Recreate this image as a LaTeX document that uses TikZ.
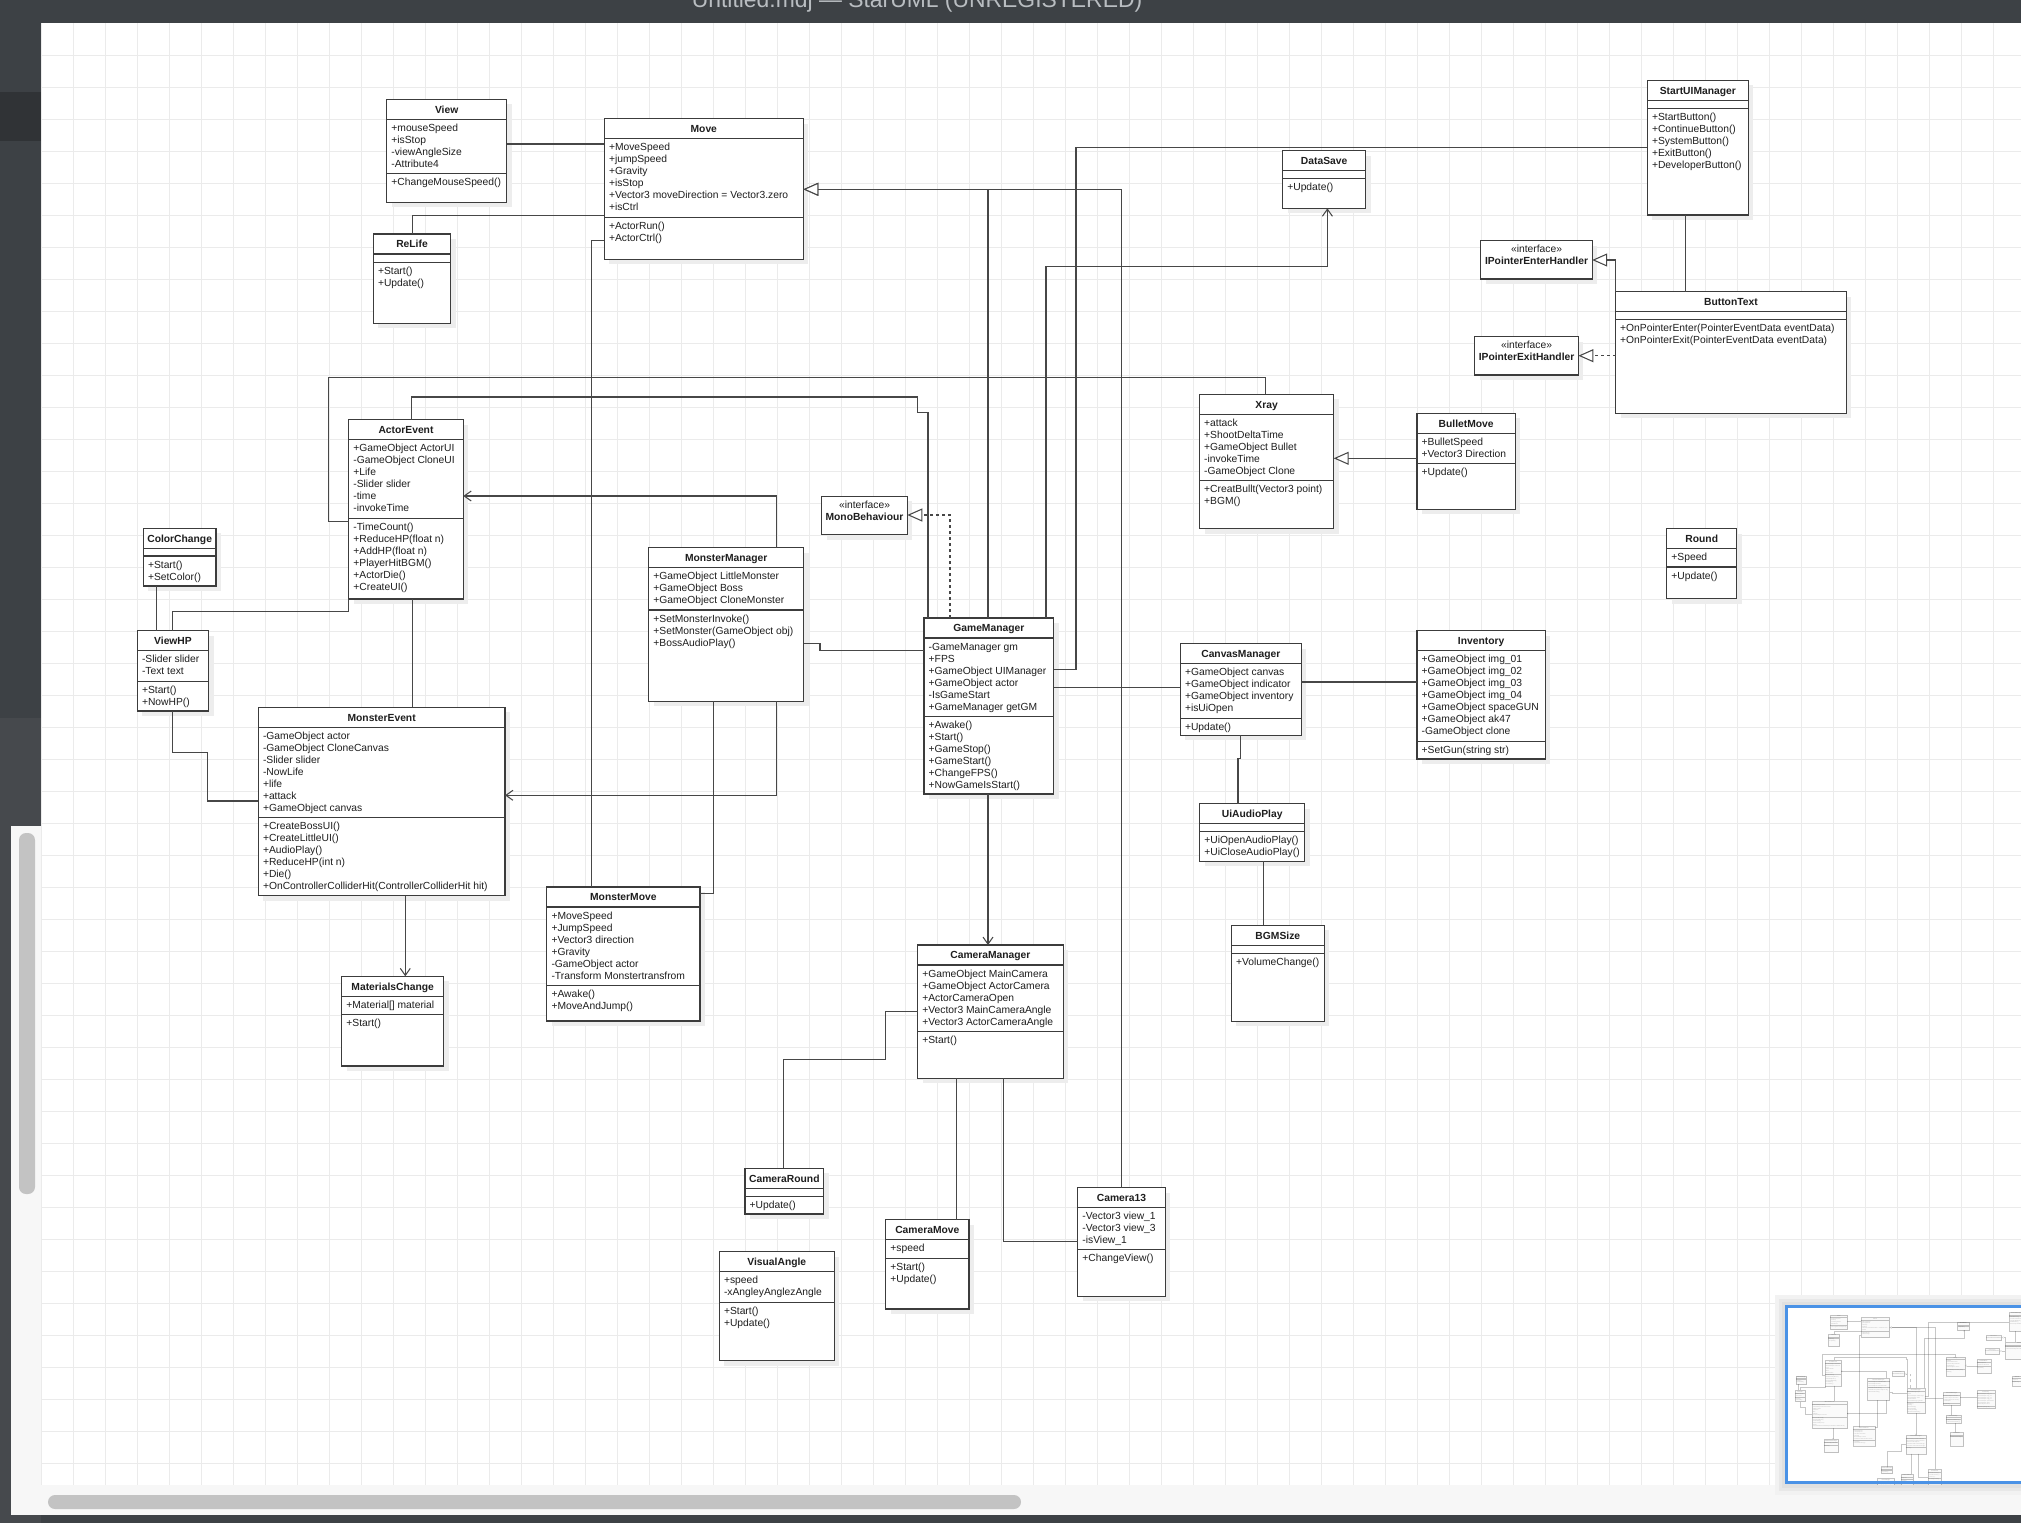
\documentclass[tikz,border=0pt]{standalone}
\usepackage{fontspec}
\setmainfont{Liberation Sans}
\usetikzlibrary{arrows.meta}
\definecolor{boxc}{HTML}{3C3C3C}
\definecolor{linec}{HTML}{474747}
\definecolor{textc}{HTML}{1E1E1E}
\definecolor{barc}{HTML}{3D4145}
\definecolor{bardark}{HTML}{303336}
\definecolor{sidelow}{HTML}{46494D}
\definecolor{gridc}{HTML}{EBEBEB}
\definecolor{scrollc}{HTML}{C3C3C3}
\definecolor{titlec}{HTML}{B9BDC1}
\definecolor{mapblue}{HTML}{4A92E6}
\definecolor{panelc}{HTML}{F7F7F7}
\newcommand{\boxlw}{1.2pt}
\newcommand{\linelw}{1.05pt}
\tikzset{
  classbox/.style={rectangle, draw=boxc, fill=white, line width=\boxlw, inner sep=0pt, outer sep=0pt},
  boxshadow/.style={fill=black!7},
  titletext/.style={font=\fontsize{10.3}{12}\selectfont\bfseries, text=textc, inner sep=0pt, anchor=base},
  stereotext/.style={font=\fontsize{10.3}{12}\selectfont, text=textc, inner sep=0pt, anchor=base},
  membertext/.style={font=\fontsize{10.3}{12}\selectfont, text=textc, inner sep=0pt, anchor=base west},
  sepline/.style={draw=boxc, line width=\boxlw},
  assoc/.style={draw=linec, line width=\linelw},
  gen/.style={assoc, -{Triangle[fill=white, length=0pt 14.3, width=0pt 12.4]}},
  realize/.style={gen, dash pattern=on 3pt off 3pt},
  nav/.style={assoc, -{Straight Barb[length=0pt 6.7, width=0pt 9.5]}},
  gridline/.style={draw=gridc, line width=1pt},
}
% name, x1, y1, x2, y2, title, second separator y, attributes, operations
\newcommand{\umlclass}[9]{%
  \fill[boxshadow] ({#2+5},{#3+5}) rectangle ({#4+5},{#5+5});
  \node[classbox, minimum width={#4-#2}, minimum height={#5-#3}] (#1) at ({(#2+#4)/2},{(#3+#5)/2}) {};
  \node[titletext] (#1-t) at ({(#2+#4)/2},{#3+13.7}) {#6};
  \draw[sepline] (#1.west |- 0,{#3+20}) -- (#1.east |- 0,{#3+20});
  \draw[sepline] (#1.west |- 0,{#7}) -- (#1.east |- 0,{#7});
  \if\relax\detokenize{#8}\relax\else
    \foreach \mtext [count=\mi] in {#8}{\node[membertext] (#1-a\mi) at ({#2+4.5},{#3+32.2+12*(\mi-1)}) {\mtext};}%
  \fi
  \if\relax\detokenize{#9}\relax\else
    \foreach \mtext [count=\mi] in {#9}{\node[membertext] (#1-o\mi) at ({#2+4.5},{#7+12.1+12*(\mi-1)}) {\mtext};}%
  \fi
}
\newcommand{\umliface}[6]{%
  \fill[boxshadow] ({#2+5},{#3+5}) rectangle ({#4+5},{#5+5});
  \node[classbox, minimum width={#4-#2}, minimum height={#5-#3}] (#1) at ({(#2+#4)/2},{(#3+#5)/2}) {};
  \node[stereotext] (#1-s) at ({(#2+#4)/2},{#3+11.7}) {«interface»};
  \node[titletext] (#1-t) at ({(#2+#4)/2},{#3+24}) {#6};
}
\newcommand{\drawdiagram}{%
  \umlclass{view}{386.7}{99.3}{506.7}{202.3}{View}{173.7}{+mouseSpeed,+isStop,-viewAngleSize,-Attribute4}{+ChangeMouseSpeed()}
  \umlclass{move}{604.3}{118.7}{803.3}{259.3}{Move}{217.3}{+MoveSpeed,+jumpSpeed,+Gravity,+isStop,+Vector3 moveDirection = Vector3.zero,+isCtrl}{+ActorRun(),+ActorCtrl()}
  \umlclass{relife}{373.3}{234}{450.7}{323.3}{ReLife}{262.3}{}{+Start(),+Update()}
  \umlclass{startui}{1647.3}{80.3}{1748.3}{215}{StartUIManager}{108.7}{}{+StartButton(),+ContinueButton(),+SystemButton(),+ExitButton(),+DeveloperButton()}
  \umlclass{datasave}{1282.6}{150.7}{1365.7}{208.3}{DataSave}{178.7}{}{+Update()}
  \umliface{ienter}{1480.8}{240.7}{1592.2}{279}{IPointerEnterHandler}
  \umlclass{buttontext}{1615.5}{291.7}{1846.3}{413.3}{ButtonText}{319.3}{}{+OnPointerEnter(PointerEventData eventData),+OnPointerExit(PointerEventData eventData)}
  \umliface{iexit}{1474.7}{336.7}{1578.4}{375}{IPointerExitHandler}
  \umlclass{actorevent}{348.7}{419.7}{463.3}{599}{ActorEvent}{518.3}{+GameObject ActorUI,-GameObject CloneUI,+Life,-Slider slider,-time,-invokeTime}{-TimeCount(),+ReduceHP(float n),+AddHP(float n),+PlayerHitBGM(),+ActorDie(),+CreateUI()}
  \umlclass{colorchange}{143.3}{528.3}{216}{586}{ColorChange}{556}{}{+Start(),+SetColor()}
  \umlclass{viewhp}{137.3}{630.7}{208.7}{711}{ViewHP}{681.7}{-Slider slider,-Text text}{+Start(),+NowHP()}
  \umlclass{monsterevent}{258.3}{707.3}{505}{895.7}{MonsterEvent}{817.7}{-GameObject actor,-GameObject CloneCanvas,-Slider slider,-NowLife,+life,+attack,+GameObject canvas}{+CreateBossUI(),+CreateLittleUI(),+AudioPlay(),+ReduceHP(int n),+Die(),+OnControllerColliderHit(ControllerColliderHit hit)}
  \umlclass{materials}{341.7}{976.3}{443.7}{1066}{MaterialsChange}{1014.7}{+Material[] material}{+Start()}
  \umliface{mono}{821.7}{496.3}{907.3}{534.7}{MonoBehaviour}
  \umlclass{monstermgr}{648.7}{547.7}{803.7}{701.3}{MonsterManager}{610}{+GameObject LittleMonster,+GameObject Boss,+GameObject CloneMonster}{+SetMonsterInvoke(),+SetMonster(GameObject obj),+BossAudioPlay()}
  \umlclass{gm}{924}{618}{1053.7}{794}{GameManager}{716.3}{-GameManager gm,+FPS,+GameObject UIManager,+GameObject actor,-IsGameStart,+GameManager getGM}{+Awake(),+Start(),+GameStop(),+GameStart(),+ChangeFPS(),+NowGameIsStart()}
  \umlclass{xray}{1199.5}{394.3}{1333.7}{528.7}{Xray}{480.3}{+attack,+ShootDeltaTime,+GameObject Bullet,-invokeTime,-GameObject Clone}{+CreatBullt(Vector3 point),+BGM()}
  \umlclass{bulletmove}{1416.9}{413.3}{1515.4}{509.3}{BulletMove}{463.7}{+BulletSpeed,+Vector3 Direction}{+Update()}
  \umlclass{round}{1666.7}{528.7}{1736.8}{598.7}{Round}{567}{+Speed}{+Update()}
  \umlclass{canvasmgr}{1180.3}{643.7}{1301.3}{735.3}{CanvasManager}{718.3}{+GameObject canvas,+GameObject indicator,+GameObject inventory,+isUiOpen}{+Update()}
  \umlclass{inventory}{1417}{630.7}{1545.3}{759}{Inventory}{741.3}{+GameObject img\_01,+GameObject img\_02,+GameObject img\_03,+GameObject img\_04,+GameObject spaceGUN,+GameObject ak47,-GameObject clone}{+SetGun(string str)}
  \umlclass{uiaudio}{1199.7}{803.7}{1304.7}{861.3}{UiAudioPlay}{831.7}{}{+UiOpenAudioPlay(),+UiCloseAudioPlay()}
  \umlclass{bgmsize}{1231.3}{925.3}{1324.3}{1021.3}{BGMSize}{953.7}{}{+VolumeChange()}
  \umlclass{monstermove}{546.8}{887}{699.9}{1021}{MonsterMove}{985.3}{+MoveSpeed,+JumpSpeed,+Vector3 direction,+Gravity,-GameObject actor,-Transform Monstertransfrom}{+Awake(),+MoveAndJump()}
  \umlclass{cammgr}{917.6}{945}{1063.2}{1078.3}{CameraManager}{1031.3}{+GameObject MainCamera,+GameObject ActorCamera,+ActorCameraOpen,+Vector3 MainCameraAngle,+Vector3 ActorCameraAngle}{+Start()}
  \umlclass{camround}{745}{1168.3}{823.7}{1214}{CameraRound}{1196.7}{}{+Update()}
  \umlclass{visualangle}{719.3}{1251.7}{834.3}{1360.7}{VisualAngle}{1302.3}{+speed,-xAngleyAnglezAngle}{+Start(),+Update()}
  \umlclass{cammove}{885.7}{1219.7}{969}{1309}{CameraMove}{1258.3}{+speed}{+Start(),+Update()}
  \umlclass{camera13}{1077.7}{1187.7}{1165.3}{1296.3}{Camera13}{1249.7}{-Vector3 view\_1,-Vector3 view\_3,-isView\_1}{+ChangeView()}
  % connectors
  \draw[assoc] (view.east |- 0,144) -- (move.west |- 0,144);
  \draw[assoc] (relife.north -| 412.3,0) |- (move.west |- 0,215.3);
  \draw[assoc] (move.west |- 0,240.7) -| (monstermove.north -| 591.4,0);
  \draw[gen] (gm.north -| 988,0) |- (move.east |- 0,189.3);
  \draw[gen] (camera13.north -| 1121.5,0) |- (move.east |- 0,189.3);
  \draw[assoc] (gm.east |- 0,669.3) -| (1076,147.7) -- (startui.west |- 0,147.7);
  \draw[nav] (gm.north -| 1046,0) |- (1327.4,266.3) -- (datasave.south -| 1327.4,0);
  \draw[assoc] (gm.north -| 928,0) |- (917.8,412.5) |- (411.7,397) -- (actorevent.north -| 411.7,0);
  \draw[realize] (gm.north -| 950,0) |- (mono.east |- 0,515);
  \draw[assoc] (actorevent.west |- 0,521.7) -| (328.7,377.7) -| (xray.north -| 1265.7,0);
  \draw[assoc] (actorevent.south west) |- (172.3,611.3) -- (viewhp.north -| 172.3,0);
  \draw[assoc] (colorchange.south -| 156.3,0) -- (viewhp.north -| 156.3,0);
  \draw[assoc] (actorevent.south -| 412.3,0) -- (monsterevent.north -| 412.3,0);
  \draw[assoc] (viewhp.south -| 172.7,0) |- (207.5,752.6) |- (monsterevent.west |- 0,801);
  \draw[nav] (monstermgr.north -| 776.7,0) |- (actorevent.east |- 0,496);
  \draw[nav] (monstermgr.south -| 776.7,0) |- (monsterevent.east |- 0,795.3);
  \draw[assoc] (monstermgr.south -| 713.1,0) |- (monstermove.east |- 0,893.3);
  \draw[assoc] (monstermgr.east |- 0,643.3) -| (820,650.3) -- (gm.west |- 0,650.3);
  \draw[nav] (monsterevent.south -| 405.3,0) -- (materials.north -| 405.3,0);
  \draw[nav] (gm.south -| 988,0) -- (cammgr.north -| 988,0);
  \draw[assoc] (gm.east |- 0,687.7) -- (canvasmgr.west |- 0,687.7);
  \draw[assoc] (canvasmgr.east |- 0,682) -- (inventory.west |- 0,682);
  \draw[assoc] (canvasmgr.south -| 1240.3,0) |- (1238,758.3) -- (uiaudio.north -| 1238,0);
  \draw[assoc] (uiaudio.south -| 1263.7,0) -- (bgmsize.north -| 1263.7,0);
  \draw[assoc] (cammgr.west |- 0,1011.7) -| (885.4,1059.3) -| (camround.north -| 783.4,0);
  \draw[assoc] (cammgr.south -| 956.4,0) -- (cammove.north -| 956.4,0);
  \draw[assoc] (cammgr.south -| 1003.1,0) |- (camera13.west |- 0,1241.7);
  \draw[assoc] (startui.south -| 1685.6,0) -- (buttontext.north -| 1685.6,0);
  \draw[gen] (buttontext.north west) |- (ienter.east |- 0,260);
  \draw[realize] (buttontext.west |- 0,355.7) -- (iexit.east |- 0,355.7);
  \draw[gen] (bulletmove.west |- 0,458.3) -- (xray.east |- 0,458.3);
}
\begin{document}
\begin{tikzpicture}[x=1pt, y=-1pt]
  \useasboundingbox (0,0) rectangle (2021,1523);
  \clip (0,0) rectangle (2021,1523);
  % window chrome
  \fill[barc] (0,0) rectangle (2021,1523);
  \fill[bardark] (0,92) rectangle (41,141);
  \fill[sidelow] (0,718) rectangle (41,1523);
  \fill[panelc] (11,826) rectangle (41,1515);
  \fill[scrollc, rounded corners=7pt] (19,833) rectangle (35,1194);
  \node[font=\fontsize{22.9}{27}\selectfont, text=titlec, anchor=base, inner sep=0pt] (wintitle) at (917,8) {Untitled.mdj — StarUML (UNREGISTERED)};
  % canvas
  \fill[white] (41,23) rectangle (2021,1485);
  \foreach \gx in {41,73,...,2021} \draw[gridline] (\gx,23) -- (\gx,1485);
  \foreach \gy in {55,87,...,1485} \draw[gridline] (41,\gy) -- (2021,\gy);
  \fill[panelc] (41,1485) rectangle (2021,1515);
  \fill[scrollc, rounded corners=7pt] (48,1495) rectangle (1021,1509);
  % diagram
  \drawdiagram
  % minimap
  \begin{scope}
    \fill[black!5] (1775,1295) rectangle (2021,1495);
    \fill[black!9] (1779,1299) rectangle (2021,1491);
    \fill[black!12] (1782,1302) rectangle (2021,1488);
    \clip (1785,1305) rectangle (2021,1484);
    \fill[white] (1785,1305) rectangle (2021,1484);
    \begin{scope}[shift={(1775.4,1300.6)}, scale=0.142, transform shape, opacity=0.3]
      \renewcommand{\boxlw}{0.17pt}\renewcommand{\linelw}{0.15pt}
      \drawdiagram
    \end{scope}
    \draw[mapblue, line width=2.6pt] (1786.3,1306.3) rectangle (2030,1482.7);
  \end{scope}
\end{tikzpicture}
\end{document}
